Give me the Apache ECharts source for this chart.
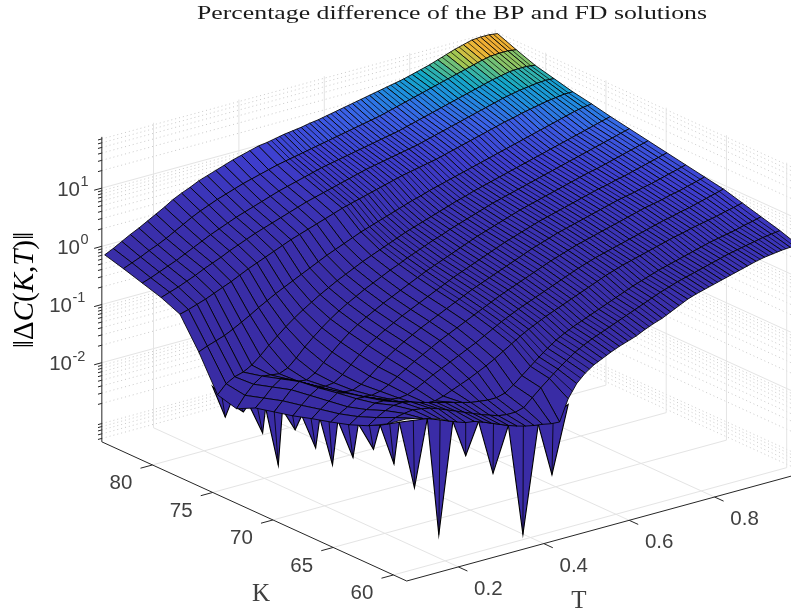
<!DOCTYPE html>
<html><head><meta charset="utf-8">
<style>html,body{margin:0;padding:0;background:#fff}#c{width:791px;height:613px}</style>
<script src="https://cdn.jsdelivr.net/npm/echarts@6/dist/echarts.min.js"></script>
</head><body><div id="c"></div>
<script>
const kNodes=[59,60.56,62.13,63.69,65.25,66.81,68.38,69.94,71.5,73.06,74.63,76.19,77.75,79.31,80.88,82.44,84];
const tNodes=[.08,.10,.12,.14,.16,.18,.20,.22,.24,.26,.28,.30,.32,.34,.36,.38,.40,.42,.44,.46,.48,.50,.52,.54,.56,.58,.60,.62,.64,.66,.68,.70,.72,.74,.76,.78,.80,.82,.84,.86,.88,.90,.92,.94,.96,.98,1.00];
const logZ=[
[-.59,-.62,-.66,-.70,-.75,-.82,-.88,-.93,-.95,-1.0,-1.06,-1.12,-1.18,-1.23,-1.27,-1.30,-1.32,-1.35,-1.36,-1.0,-.78,-.64,-.54,-.47,-.40,-.34,-.29,-.24,-.17,-.11,-.06,.01,.08,.15,.20,.24,.28,.32,.36,.40,.44,.48,.51,.53,.55,.56,.55],
[-.82,-.75,-.72,-.70,-.72,-.75,-.80,-.86,-.92,-.98,-1.04,-1.10,-1.15,-1.2,-1.22,-1.22,-1.18,-1.05,-.92,-.80,-.68,-.57,-.47,-.39,-.32,-.26,-.20,-.14,-.08,-.02,.04,.10,.16,.21,.26,.30,.34,.38,.42,.46,.50,.53,.56,.59,.62,.64,.66],
[-1.0,-.9,-.82,-.77,-.76,-.79,-.84,-.88,-.92,-.96,-1.0,-1.04,-1.08,-1.10,-1.12,-1.12,-1.08,-.98,-.86,-.74,-.62,-.51,-.41,-.33,-.26,-.20,-.14,-.08,-.02,.04,.10,.16,.21,.26,.31,.35,.39,.43,.47,.51,.55,.58,.61,.64,.68,.71,.75],
[-1.13,-1.03,-.95,-.88,-.88,-.93,-1.0,-1.06,-1.1,-1.12,-1.12,-1.08,-1.02,-.96,-.90,-.83,-.76,-.68,-.59,-.50,-.41,-.33,-.26,-.19,-.13,-.07,-.01,.05,.11,.17,.23,.28,.33,.37,.41,.45,.49,.53,.57,.60,.64,.67,.70,.73,.77,.80,.84],
[-1.23,-1.13,-1.05,-.95,-.96,-1.02,-1.08,-1.12,-1.14,-1.12,-1.06,-.98,-.90,-.83,-.76,-.69,-.62,-.55,-.47,-.39,-.31,-.24,-.17,-.11,-.05,.01,.07,.13,.19,.25,.30,.35,.39,.43,.47,.51,.55,.59,.63,.67,.70,.74,.77,.81,.85,.89,.93],
[-1.32,-1.2,-1.1,-1.0,-1.04,-1.12,-1.18,-1.2,-1.17,-1.1,-1.0,-.91,-.82,-.74,-.66,-.58,-.51,-.44,-.37,-.30,-.23,-.16,-.09,-.03,.03,.09,.15,.21,.27,.32,.37,.42,.46,.50,.54,.58,.62,.66,.70,.74,.77,.80,.84,.87,.91,.95,.99],
[-1.42,-1.28,-1.15,-1.06,-1.12,-1.2,-1.25,-1.26,-1.2,-1.1,-.98,-.86,-.76,-.67,-.59,-.51,-.44,-.37,-.30,-.23,-.16,-.09,-.03,.03,.09,.15,.21,.27,.33,.38,.43,.48,.52,.56,.60,.64,.68,.72,.76,.79,.82,.86,.89,.93,.97,1.01,1.05],
[-1.5,-1.35,-1.2,-1.1,-1.18,-1.26,-1.3,-1.28,-1.18,-1.05,-.92,-.8,-.7,-.61,-.53,-.45,-.38,-.31,-.24,-.17,-.10,-.03,.03,.09,.15,.21,.27,.33,.38,.43,.48,.53,.57,.61,.65,.69,.73,.77,.81,.84,.88,.91,.95,.99,1.03,1.07,1.11],
[-1.58,-1.45,-1.3,-1.2,-1.25,-1.32,-1.34,-1.26,-1.12,-.98,-.85,-.73,-.63,-.54,-.46,-.38,-.31,-.24,-.17,-.10,-.03,.03,.09,.15,.21,.27,.33,.38,.43,.48,.53,.58,.62,.66,.70,.74,.78,.82,.86,.90,.93,.97,1.01,1.05,1.09,1.13,1.17],
[-1.74,-1.55,-1.4,-1.3,-1.32,-1.34,-1.28,-1.15,-1.0,-.87,-.75,-.64,-.54,-.45,-.37,-.29,-.22,-.15,-.08,-.02,.05,.11,.17,.23,.28,.34,.39,.44,.49,.54,.59,.63,.67,.71,.75,.79,.83,.87,.91,.95,.99,1.03,1.07,1.11,1.15,1.19,1.23],
[-1.65,-1.5,-1.42,-1.38,-1.3,-1.18,-1.04,-.92,-.8,-.69,-.59,-.5,-.41,-.33,-.25,-.18,-.11,-.04,.02,.08,.14,.2,.26,.31,.36,.41,.46,.51,.56,.6,.65,.69,.73,.77,.81,.85,.89,.93,.97,1.01,1.05,1.09,1.13,1.17,1.21,1.25,1.29],
[-1.06,-1.0,-.95,-.9,-.83,-.75,-.67,-.58,-.5,-.42,-.35,-.28,-.21,-.14,-.07,0,.06,.12,.18,.24,.29,.34,.39,.44,.49,.54,.58,.63,.67,.71,.75,.79,.83,.87,.91,.95,.99,1.03,1.07,1.11,1.15,1.19,1.23,1.27,1.31,1.34,1.36],
[-.56,-.52,-.47,-.42,-.36,-.3,-.24,-.17,-.1,-.04,.02,.08,.14,.2,.25,.3,.35,.4,.45,.5,.54,.58,.62,.66,.7,.74,.78,.81,.84,.87,.9,.94,.98,1.02,1.06,1.1,1.14,1.18,1.22,1.25,1.29,1.32,1.35,1.38,1.4,1.42,1.42],
[-.42,-.37,-.32,-.26,-.2,-.13,-.07,-.01,.06,.12,.18,.24,.29,.34,.39,.44,.49,.54,.58,.62,.66,.7,.74,.78,.82,.85,.88,.91,.94,.97,1.0,1.04,1.08,1.12,1.16,1.2,1.24,1.28,1.32,1.36,1.4,1.43,1.46,1.48,1.5,1.51,1.5],
[-.32,-.27,-.21,-.15,-.09,-.02,.05,.12,.19,.25,.31,.37,.42,.47,.52,.57,.62,.66,.7,.74,.78,.82,.85,.88,.91,.94,.97,1.0,1.03,1.06,1.09,1.13,1.17,1.21,1.25,1.29,1.33,1.37,1.41,1.45,1.49,1.53,1.56,1.59,1.6,1.6,1.58],
[-.22,-.16,-.1,-.03,.03,.1,.18,.26,.34,.41,.47,.53,.58,.63,.68,.72,.76,.8,.84,.87,.9,.93,.96,.99,1.02,1.05,1.08,1.11,1.14,1.17,1.2,1.24,1.28,1.32,1.36,1.4,1.44,1.48,1.52,1.56,1.6,1.64,1.68,1.71,1.72,1.72,1.7],
[-.13,-.06,.02,.10,.17,.25,.33,.41,.50,.57,.63,.70,.75,.80,.85,.90,.94,.98,1.02,1.04,1.07,1.10,1.12,1.14,1.17,1.19,1.22,1.25,1.28,1.31,1.34,1.37,1.40,1.43,1.46,1.49,1.53,1.57,1.61,1.66,1.71,1.76,1.80,1.84,1.85,1.85,1.83]
];
// front rim: alternating rim point / spike tip, as [K, T, log10 z]
const rimPoints=[[75.4,.09,-1.6],[74.7,.10,-2.08],[73.9,.09,-1.75],[73.2,.10,-1.85],[72.4,.09,-1.62],[71.6,.10,-2.06],[71,.09,-1.55],[70.3,.10,-2.49],[69.6,.09,-1.45],[68.9,.10,-1.75],[68,.09,-1.4],[67.2,.10,-1.9],[66.5,.09,-1.3],[65.8,.10,-2.06],[65,.09,-1.2],[64.1,.10,-1.77],[63.3,.09,-1.1],[62.4,.10,-1.47],[61.5,.09,-.95],[60.7,.10,-1.56],[59.9,.09,-.75],[59,.10,-1.81],[59,.13,-.68],[59,.157,-2.73],[59,.19,-.85],[59,.22,-1.5],[59,.25,-.97],[59,.284,-1.93],[59,.32,-1.18],[59,.354,-3.12],[59,.39,-1.3],[59,.422,-2.23],[59,.46,-1.1]];
const kTicks=[60,65,70,75,80], tTicks=[.2,.4,.6,.8], zTicks=[-2,-1,0,1], tTickLabels=['0.2','0.4','0.6','0.8'];
const zDecades=[-4,-3,-2,-1,0,1], minorMult=[2,3,4,5,6,7,8,9];
const kMin=58.9,kMax=84.2,tMin=.079,tMax=1.0,zMin=-3.36,zMax=1.88;
const parulaStops=['#392ca4','#3e3ecf','#3b62e8','#1f8ee0','#14a8c8','#50bc90','#a8c850','#e8b838','#f5a830','#f8b030'];
const zColorMax=72;
const titleText='Percentage difference of the BP and FD solutions';

function project(K,T,z){return [406.7+(T-tMin)*427-(K-kMin)*12.05, 581-(T-tMin)*116.5-(K-kMin)*5.5-(z-zMin)*58.2];}
function colorOf(z){const t=Math.min(1,Math.pow(10,z)/zColorMax);return echarts.color.lerp(t,parulaStops);}
const minors=[];zDecades.forEach(d=>minorMult.forEach(m=>{const v=d+Math.log10(m);if(v>zMin&&v<zMax)minors.push(v);}));

const solid=[],dotted=[],axisSeg=[];
kTicks.forEach(k=>{solid.push([k,tMin,zMin,k,tMax,zMin]);solid.push([k,tMax,zMin,k,tMax,zMax]);});
tTicks.forEach(t=>{solid.push([kMin,t,zMin,kMax,t,zMin]);solid.push([kMax,t,zMin,kMax,t,zMax]);});
zTicks.forEach(z=>{solid.push([kMax,tMin,z,kMax,tMax,z]);solid.push([kMax,tMax,z,kMin,tMax,z]);});
solid.push([kMax,tMax,zMin,kMax,tMax,zMax]);
minors.forEach(z=>{dotted.push([kMax,tMin,z,kMax,tMax,z]);dotted.push([kMax,tMax,z,kMin,tMax,z]);});
axisSeg.push([kMin,tMin,zMin,kMax,tMin,zMin],[kMin,tMin,zMin,kMin,tMax,zMin],[kMax,tMin,zMin,kMax,tMin,zMax]);
kTicks.forEach(k=>axisSeg.push([k,tMin,zMin,k,tMin-.028,zMin]));
tTicks.forEach(t=>axisSeg.push([kMin,t,zMin,kMin-.75,t,zMin]));
zTicks.forEach(z=>axisSeg.push([kMax,tMin,z,kMax,tMin-.018,z]));
minors.forEach(z=>axisSeg.push([kMax,tMin,z,kMax,tMin-.009,z]));

function segSeries(segs,style){return {type:'custom',coordinateSystem:'cartesian2d',silent:true,clip:false,animation:false,progressive:0,
  data:segs.map((s,i)=>[i,0]),encode:{x:0,y:1},
  renderItem:(p,api)=>{const s=segs[p.dataIndex];const a=api.coord(project(s[0],s[1],s[2])),b=api.coord(project(s[3],s[4],s[5]));
    return {type:'line',shape:{x1:a[0],y1:a[1],x2:b[0],y2:b[1]},style};}};}

const edge='#000';
const hatchFrom=19; // finer hatching of the mesh from this T column on
const cells=[];for(let i=kNodes.length-2;i>=0;i--)for(let j=tNodes.length-2;j>=0;j--)cells.push([i,j]);
const surface={type:'custom',coordinateSystem:'cartesian2d',silent:true,clip:false,animation:false,progressive:0,
  data:cells,encode:{x:0,y:1},
  renderItem:(p,api)=>{const c=cells[p.dataIndex],i=c[0],j=c[1];
    const idx=[[i,j],[i,j+1],[i+1,j+1],[i+1,j]];
    const pts=idx.map(q=>api.coord(project(kNodes[q[0]],tNodes[q[1]],logZ[q[0]][q[1]])));
    const avg=(logZ[i][j]+logZ[i][j+1]+logZ[i+1][j+1]+logZ[i+1][j])/4;
    const poly={type:'polygon',shape:{points:pts},style:{fill:colorOf(avg),stroke:edge,lineWidth:.85}};
    if(j<hatchFrom)return poly;
    return {type:'group',children:[poly,{type:'line',shape:{x1:(pts[0][0]+pts[1][0])/2,y1:(pts[0][1]+pts[1][1])/2,x2:(pts[2][0]+pts[3][0])/2,y2:(pts[2][1]+pts[3][1])/2},style:{stroke:edge,lineWidth:.7}}]};}};

const teeth=[];for(let n=0;n+2<rimPoints.length;n+=2)teeth.push([n,0]);
const teethSeries={type:'custom',coordinateSystem:'cartesian2d',silent:true,clip:false,animation:false,progressive:0,
  data:teeth.slice().reverse(),encode:{x:0,y:1},
  renderItem:(p,api)=>{const n=teeth[teeth.length-1-p.dataIndex][0];
    const pts=[rimPoints[n],rimPoints[n+1],rimPoints[n+2]].map(q=>api.coord(project(q[0],q[1],q[2])));
    const mid=[(pts[0][0]+pts[2][0])/2,(pts[0][1]+pts[2][1])/2];
    return {type:'group',children:[
      {type:'polygon',shape:{points:pts},style:{fill:'#3a2ca6',stroke:edge,lineWidth:1.1}},
      {type:'line',shape:{x1:pts[1][0],y1:pts[1][1],x2:mid[0],y2:mid[1]},style:{stroke:edge,lineWidth:.8}}]};}};

const texts=[];
kTicks.forEach(k=>{const q=project(k,tMin,zMin);texts.push({t:String(k),x:q[0]-31.5,y:q[1]+18.5});});
tTicks.forEach((t,n)=>{const q=project(kMin,t,zMin);texts.push({t:tTickLabels[n],x:q[0]+30,y:q[1]+22.5});});
const labelFont='20.5px "Liberation Sans"';
const labelSeries={type:'custom',coordinateSystem:'cartesian2d',silent:true,clip:false,animation:false,progressive:0,
  data:texts.map((t,i)=>[i,0]),encode:{x:0,y:1},
  renderItem:(p,api)=>{const t=texts[p.dataIndex],a=api.coord([t.x,t.y]);
    return {type:'text',style:{text:t.t,x:a[0],y:a[1],font:labelFont,fill:'#404040',align:'center',verticalAlign:'middle'}};}};
const zLabelSeries={type:'custom',coordinateSystem:'cartesian2d',silent:true,clip:false,animation:false,progressive:0,
  data:zTicks.map((t,i)=>[i,0]),encode:{x:0,y:1},
  renderItem:(p,api)=>{const z=zTicks[p.dataIndex],q=project(kMax,tMin,z);const a=api.coord([0,q[1]]);
    const e=String(z),ex=87-(z<0?15:7);
    return {type:'group',children:[
      {type:'text',style:{text:'10',x:ex,y:a[1]+2,font:labelFont,fill:'#404040',align:'right',verticalAlign:'middle'}},
      {type:'text',style:{text:e,x:ex+.5,y:a[1]-6,font:'14.5px "Liberation Sans"',fill:'#404040',align:'left',verticalAlign:'middle'}}]};}};
const serifN={fontFamily:'"Liberation Serif"',fontSize:29,color:'#555'};
const serifI={fontFamily:'"Liberation Serif"',fontSize:29,fontStyle:'italic',color:'#555'};

const mc=document.createElement('canvas').getContext('2d');mc.font='18.5px "Liberation Serif"';
const titleScale=510/mc.measureText(titleText).width;

const chart=echarts.init(document.getElementById('c'),null,{renderer:'canvas'});
chart.setOption({animation:false,backgroundColor:'#fff',
 grid:{left:0,right:0,top:0,bottom:0},
 xAxis:{type:'value',min:0,max:791,show:false},
 yAxis:{type:'value',min:0,max:613,inverse:true,show:false},
 graphic:[
  {type:'text',x:452,y:14,scaleX:titleScale,style:{text:titleText,font:'18.5px "Liberation Serif"',fill:'#1a1a1a',align:'center',verticalAlign:'middle'}},
  {type:'text',x:25,y:290,rotation:Math.PI/2,style:{text:'{n|‖Δ}{i|C}{n|(}{i|K,T}{n|)‖}',align:'center',verticalAlign:'middle',rich:{n:serifN,i:serifI}}},
  {type:'text',x:261,y:594,style:{text:'K',font:'25px "Liberation Serif"',fill:'#404040',align:'center',verticalAlign:'middle'}},
  {type:'text',x:579,y:601,style:{text:'T',font:'25px "Liberation Serif"',fill:'#404040',align:'center',verticalAlign:'middle'}}
 ],
 series:[
  segSeries(dotted,{stroke:'#bdbdbd',lineWidth:.8,lineDash:[1,3]}),
  segSeries(solid,{stroke:'#e4e4e4',lineWidth:1}),
  segSeries(axisSeg,{stroke:'#262626',lineWidth:1}),
  teethSeries,surface,labelSeries,zLabelSeries
 ]});
</script></body></html>
